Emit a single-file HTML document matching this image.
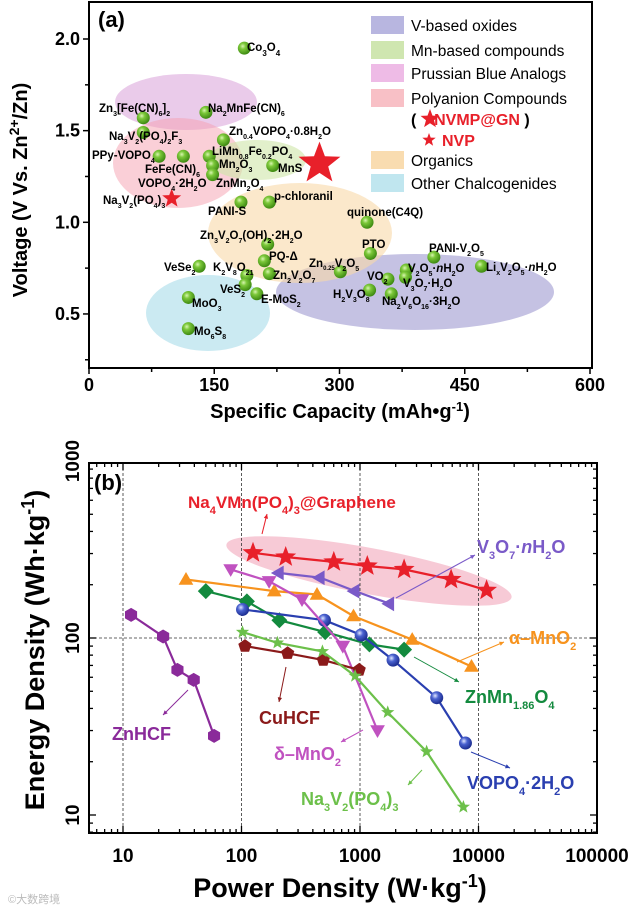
<!DOCTYPE html>
<html><head><meta charset="utf-8">
<style>
html,body{margin:0;padding:0;background:#fff;}
svg{display:block;font-family:"Liberation Sans",Arial,sans-serif;}
.b{font-weight:bold;}
</style></head>
<body>
<svg id="chart" width="633" height="909" viewBox="0 0 633 909" xmlns="http://www.w3.org/2000/svg">
<defs>
<radialGradient id="ball" cx="0.38" cy="0.35" r="0.65">
<stop offset="0" stop-color="#d8f5b0"/><stop offset="0.35" stop-color="#7cc83a"/><stop offset="1" stop-color="#3e8a12"/>
</radialGradient>
<radialGradient id="bball" cx="0.38" cy="0.35" r="0.65">
<stop offset="0" stop-color="#e0e6ff"/><stop offset="0.4" stop-color="#4a62d0"/><stop offset="1" stop-color="#1d2e90"/>
</radialGradient>
</defs>
<g id="panelA"></g>
<g id="panelB"></g>
<text x="8" y="903" font-size="11" fill="#bbb" font-family="'Liberation Sans','Noto Sans CJK SC',sans-serif">©大数跨境</text>
</svg>
<script>
// ---------- Panel A data ----------
const aNames = ["Co3O4","Zn3[Fe(CN)6]2","Na2MnFe(CN)6","Na3V2(PO4)2F3","Zn0.4VOPO4","PPy-VOPO4","FeFe(CN)6","LiMn0.8Fe0.2PO4","Mn2O3","ZnMn2O4","MnS","PANI-S","p-chloranil","quinone","Zn3V2O7(OH)2","PTO","PQ","PANI-V2O5","VeSe2","K2V8O21","Zn2V2O7","Zn0.25V2O5","V2O5nH2O","V3O7H2O","VO2","LixV2O5","VeS2","H2V3O8","Na2V6O16","MoO3","E-MoS2","Mo6S8"];
const aCap = [186,65,140,65,161,84,113,144,148,148,220,182,216,333,214,337,210,413,132,189,216,301,380,379,358,470,187,336,362,119,201,119];
const aVolt = [1.95,1.57,1.60,1.49,1.45,1.36,1.36,1.36,1.31,1.26,1.31,1.11,1.11,1.00,0.88,0.83,0.79,0.81,0.76,0.71,0.72,0.73,0.74,0.70,0.69,0.76,0.66,0.63,0.61,0.59,0.61,0.42];
const starCap = [276, 99];
const starVolt = [1.32, 1.13];
const aXTicks = [0,150,300,450,600];
const aYTicks = [0.5,1.0,1.5,2.0];

// ---------- Panel B data ----------
const nvmpP=[125,236,601,1153,2357,5870,11700], nvmpE=[303,287,269,255,244,214,186];
const v3o7P=[209,463,910,1787], v3o7E=[233,219,184,156];
const amnoP=[34,189,434,881,2760,8730], amnoE=[214,184,176,133,98,69];
const znmnP=[50,111,209,509,1200,2357], znmnE=[184,161,126,108,92,86];
const vopoP=[102,501,1023,1901,4440,7760], vopoE=[145,126,104,75,46,25.5];
const dmnoP=[81,171,324,716,1406], dmnoE=[244,209,165,90,30];
const nvpP=[102,201,482,910,1714,3650,7450], nvpE=[108,94,84,61,38,22.8,11.1];
const cuP=[107,245,490,984], cuE=[90,82,75,66];
const znP=[11.7,21.8,28.8,39.5,58.7], znE=[135,102,66,58,28];
const bXTicks=[10,100,1000,10000,100000];
const bYTicks=[10,100,1000];

const NS="http://www.w3.org/2000/svg";
function mk(tag, attrs, parent){const e=document.createElementNS(NS,tag);for(const k in attrs)e.setAttribute(k,attrs[k]);parent.appendChild(e);return e;}

// ===== Panel A =====
const A=document.getElementById('panelA');
const axL=89, axR=592, axT=2, axB=368;
const xA=v=>axL+v*(501/600);
const yA=v=>39+(2.0-v)*183.3;

const ells=[["v-oxides-region",415,292,139,38,"#8c86c8",0.5],["chalcogenides-region",208,313,62,38,"#a8dcea",0.6],
["organics-region",300,233,92,50,"#f9d9a8",0.6],["pba-region",186,102,71,28,"#d8a0d8",0.55],
["polyanion-region",178,163,65,45,"#f5a0b0",0.5],["mn-region",257,160,49,20,"#cfe6a8",0.6]];
ells.forEach(e=>{const el=mk('ellipse',{cx:e[1],cy:e[2],rx:e[3],ry:e[4],fill:e[5],'fill-opacity':e[6]},A);

});

const fr=mk('rect',{x:axL,y:axT,width:axR-axL,height:axB-axT,fill:'none',stroke:'#000','stroke-width':2},A);


for(let v=0;v<=600;v+=75){const x=xA(v);mk('line',{x1:x,y1:axB,x2:x,y2:axB+(v%150==0?6:4),stroke:'#000','stroke-width':1.5},A);}
for(let v=0.25;v<=2.2;v+=0.25){const y=yA(v);mk('line',{x1:axL,y1:y,x2:axL-(Math.abs(v*2-Math.round(v*2))<0.01?6:4),y2:y,stroke:'#000','stroke-width':1.5},A);}
aXTicks.forEach(v=>{const t=mk('text',{x:xA(v),y:391,'text-anchor':'middle','font-size':18,class:'b'},A);t.textContent=v;

});
aYTicks.forEach(v=>{const t=mk('text',{x:80,y:yA(v)+6,'text-anchor':'end','font-size':18,class:'b'},A);t.textContent=v.toFixed(1);

});

aCap.forEach((c,i)=>{const p=mk('circle',{cx:xA(c),cy:yA(aVolt[i]),r:6.5,fill:'url(#ball)'},A);

});
function star(cx,cy,R,parent,fill){const r=R*0.42;let d='';for(let k=0;k<10;k++){const rr=k%2?r:R;const a=-Math.PI/2+k*Math.PI/5;d+=(k?'L':'M')+(cx+rr*Math.cos(a)).toFixed(1)+','+(cy+rr*Math.sin(a)).toFixed(1);}return mk('path',{d:d+'Z',fill:fill,stroke:'none'},parent);}
[22,10].forEach((R,i)=>{const s=star(xA(starCap[i]),yA(starVolt[i]),R,A,'#e8202a');

});

const S=(t,f)=>'<tspan baseline-shift="sub" font-size="'+(f||7)+'">'+t+'</tspan>';
const labs=[
[247,51,'Co'+S(3,8)+'O'+S(4,8)],
[99,112,'Zn'+S(3)+'[Fe(CN)'+S(6)+']'+S(2)],
[208,112,'Na'+S(2)+'MnFe(CN)'+S(6)],
[109,140,'Na'+S(3)+'V'+S(2)+'(PO'+S(4)+')'+S(2)+'F'+S(3)],
[229,135,'Zn'+S(0.4)+'VOPO'+S(4)+'·0.8H'+S(2)+'O'],
[92,159,'PPy-VOPO'+S(4)],
[212,155,'LiMn'+S(0.8)+'Fe'+S(0.2)+'PO'+S(4)],
[219,168,'Mn'+S(2)+'O'+S(3)],
[145,173,'FeFe(CN)'+S(6)],
[278,172,'MnS'],
[138,187,'VOPO'+S(4)+'·2H'+S(2)+'O'],
[216,187,'ZnMn'+S(2)+'O'+S(4)],
[103,204,'Na'+S(3)+'V'+S(2)+'(PO'+S(4)+')'+S(3)],
[208,215,'PANI-S'],
[274,200,'p-chloranil'],
[347,216,'quinone(C4Q)'],
[200,239,'Zn'+S(3)+'V'+S(2)+'O'+S(7)+'(OH)'+S(2)+'·2H'+S(2)+'O'],
[362,248,'PTO'],
[269,260,'PQ-Δ'],
[429,252,'PANI-V'+S(2)+'O'+S(5)],
[164,271,'VeSe'+S(2)],
[213,271,'K'+S(2)+'V'+S(8)+'O'+S(21)],
[273,279,'Zn'+S(2)+'V'+S(2)+'O'+S(7)],
[309,267,'Zn'+S(0.25,6)+'V'+S(2)+'O'+S(5)],
[408,272,'V'+S(2)+'O'+S(5)+'·<tspan font-style="italic">n</tspan>H'+S(2)+'O'],
[367,280,'VO'+S(2)],
[403,287,'V'+S(3)+'O'+S(7)+'·H'+S(2)+'O'],
[486,271,'Li'+S('x')+'V'+S(2)+'O'+S(5)+'·<tspan font-style="italic">n</tspan>H'+S(2)+'O'],
[220,293,'VeS'+S(2)],
[333,298,'H'+S(2)+'V'+S(3)+'O'+S(8)],
[382,305,'Na'+S(2)+'V'+S(6)+'O'+S(16)+'·3H'+S(2)+'O'],
[261,303,'E-MoS'+S(2)],
[192,307,'MoO'+S(3)],
[194,335,'Mo'+S(6)+'S'+S(8)]];
labs.forEach(l=>{const t=mk('text',{x:l[0],y:l[1],'font-size':11.5,class:'b'},A);t.innerHTML=l[2];

});

const leg=[[25,'#b8b6e0','V-based oxides'],[50,'#cfe6b0','Mn-based compounds'],[73,'#eebbe6','Prussian Blue Analogs'],[98,'#f8c0c6','Polyanion Compounds'],[160,'#f9dcb0','Organics'],[183,'#c0e6ef','Other Chalcogenides']];
leg.forEach(l=>{const g=mk('g',{},A);

mk('rect',{x:371,y:l[0]-9,width:33,height:18,fill:l[1]},g);
const t=mk('text',{x:411,y:l[0]+6,'font-size':15.5},g);t.textContent=l[2];});
const lt1=mk('text',{x:411,y:125,'font-size':16,class:'b'},A);lt1.innerHTML='(<tspan fill="#e8202a"> &#160;&#160;&#160;NVMP@GN</tspan> )';


star(430,119,10,A,'#e8202a');
const lt2=mk('text',{x:442,y:146,'font-size':16,class:'b',fill:'#e8202a'},A);lt2.textContent='NVP';


star(429,140,7,A,'#e8202a');

const ta=mk('text',{x:98,y:27,'font-size':22,class:'b'},A);ta.textContent='(a)';


const xta=mk('text',{x:340,y:418,'text-anchor':'middle','font-size':20,class:'b'},A);xta.innerHTML='Specific Capacity (mAh•g<tspan baseline-shift="super" font-size="13">-1</tspan>)';


const yta=mk('text',{x:0,y:0,'text-anchor':'middle','font-size':20,class:'b',transform:'translate(27,190) rotate(-90)'},A);yta.innerHTML='Voltage (V Vs. Zn<tspan baseline-shift="super" font-size="14">2+</tspan>/Zn)';



// ===== Panel B =====
const B=document.getElementById('panelB');
const bL=89,bR=597,bT=463,bB=833;
const xB=v=>123+(Math.log10(v)-1)*118.5;
const yB=v=>638-(Math.log10(v)-2)*177;

const pe=mk('ellipse',{cx:369,cy:571,rx:145,ry:23,fill:'#f4b4c4','fill-opacity':0.7,transform:'rotate(10.5 369 571)'},B);



const fb=mk('rect',{x:bL,y:bT,width:bR-bL,height:bB-bT,fill:'none',stroke:'#000','stroke-width':2},B);


bXTicks.slice(0,4).forEach(v=>{mk('line',{x1:xB(v),y1:bT,x2:xB(v),y2:bB,stroke:'#333','stroke-width':0.8,'stroke-dasharray':'3,2'},B);});
mk('line',{x1:bL,y1:yB(100),x2:bR,y2:yB(100),stroke:'#333','stroke-width':0.8,'stroke-dasharray':'3,2'},B);
for(let d=0;d<=5;d++)for(let m=1;m<10;m++){const v=m*Math.pow(10,d);const x=xB(v);if(x<bL||x>bR)continue;const L=m==1?7:4;
mk('line',{x1:x,y1:bB,x2:x,y2:bB-L,stroke:'#000','stroke-width':1.3},B);mk('line',{x1:x,y1:bT,x2:x,y2:bT+L,stroke:'#000','stroke-width':1.3},B);}
for(let d=0;d<=3;d++)for(let m=1;m<10;m++){const v=m*Math.pow(10,d);const y=yB(v);if(y<bT-1||y>bB)continue;const L=m==1?7:4;
mk('line',{x1:bL,y1:y,x2:bL+L,y2:y,stroke:'#000','stroke-width':1.3},B);mk('line',{x1:bR,y1:y,x2:bR-L,y2:y,stroke:'#000','stroke-width':1.3},B);}
bXTicks.forEach(v=>{const t=mk('text',{x:xB(v),y:862,'text-anchor':'middle','font-size':19,class:'b'},B);t.textContent=v;

});
bYTicks.forEach(v=>{const t=mk('text',{x:0,y:0,'text-anchor':'middle','font-size':19,class:'b',transform:`translate(79,${yB(v)}) rotate(-90)`},B);t.textContent=v;

});

function poly(n,cx,cy,R,rot){let d='';for(let k=0;k<n;k++){const a=rot+k*2*Math.PI/n;d+=(k?'L':'M')+(cx+R*Math.cos(a)).toFixed(1)+','+(cy+R*Math.sin(a)).toFixed(1);}return d+'Z';}
function series(name,P,E,color,marker,lw){
 const g=mk('g',{},B);
 
 
 const pts=P.map((p,i)=>xB(p).toFixed(1)+','+yB(E[i]).toFixed(1)).join(' ');
 mk('polyline',{points:pts,fill:'none',stroke:color,'stroke-width':lw||2.2},g);
 P.forEach((p,i)=>{const x=xB(p),y=yB(E[i]);let m;
  if(marker=='star')m=star(x,y,11,g,color);
  else if(marker=='sstar')m=star(x,y,7,g,color);
  else if(marker=='up')m=mk('path',{d:poly(3,x,y+1,8.5,-Math.PI/2),fill:color},g);
  else if(marker=='down')m=mk('path',{d:poly(3,x,y-1,8.5,Math.PI/2),fill:color},g);
  else if(marker=='left')m=mk('path',{d:poly(3,x,y,8.5,Math.PI),fill:color},g);
  else if(marker=='diamond')m=mk('path',{d:poly(4,x,y,8,0),fill:color},g);
  else if(marker=='pent')m=mk('path',{d:poly(5,x,y,7,-Math.PI/2),fill:color},g);
  else if(marker=='hex')m=mk('path',{d:poly(6,x,y,7,Math.PI/6),fill:color},g);
  else m=mk('circle',{cx:x,cy:y,r:6.5,fill:'url(#bball)'},g);
  
  
 });
}
series('alpha-mno2',amnoP,amnoE,'#f7931e','up');
series('znmn186o4',znmnP,znmnE,'#138a3e','diamond');
series('vopo4',vopoP,vopoE,'#2a3fb0','circle');
series('delta-mno2',dmnoP,dmnoE,'#c052c0','down');
series('cuhcf',cuP,cuE,'#8b1a1a','pent');
series('nvp',nvpP,nvpE,'#6cc04a','sstar');
series('znhcf',znP,znE,'#8a2a9a','hex');
series('v3o7',v3o7P,v3o7E,'#7a5ac8','left');
series('nvmp-graphene',nvmpP,nvmpE,'#e8202a','star');

const arr=[[262,534,267,514,'#e8202a'],[396,598,475,555,'#7a5ac8'],[457,662,504,642,'#f7931e'],[414,657,459,682,'#138a3e'],[471,752,510,768,'#2a3fb0'],[422,770,408,785,'#6cc04a'],[363,730,341,742,'#c052c0'],[286,667,279,702,'#8b1a1a'],[188,690,163,715,'#8a2a9a']];
arr.forEach(a=>{const g=mk('g',{},B);

mk('line',{x1:a[0],y1:a[1],x2:a[2],y2:a[3],stroke:a[4],'stroke-width':1},g);
const ang=Math.atan2(a[3]-a[1],a[2]-a[0]);const h=5;
mk('path',{d:`M${a[2]},${a[3]}L${a[2]-h*Math.cos(ang-0.45)},${a[3]-h*Math.sin(ang-0.45)}L${a[2]-h*Math.cos(ang+0.45)},${a[3]-h*Math.sin(ang+0.45)}Z`,fill:a[4]},g);});

const T=(t)=>'<tspan baseline-shift="sub" font-size="11">'+t+'</tspan>';
const bl=[[188,508,'#e8202a',17,'Na'+T(4)+'VMn(PO'+T(4)+')'+T(3)+'@Graphene'],
[477,553,'#7a5ac8',18,'V'+T(3)+'O'+T(7)+'·<tspan font-style="italic">n</tspan>H'+T(2)+'O'],
[509,644,'#f7931e',18,'α–MnO'+T(2)],
[465,703,'#138a3e',18,'ZnMn'+T(1.86)+'O'+T(4)],
[467,789,'#2a3fb0',18,'VOPO'+T(4)+'·2H'+T(2)+'O'],
[301,805,'#6cc04a',18,'Na'+T(3)+'V'+T(2)+'(PO'+T(4)+')'+T(3)],
[274,760,'#c052c0',18,'δ–MnO'+T(2)],
[259,724,'#8b1a1a',18,'CuHCF'],
[112,740,'#8a2a9a',18,'ZnHCF']];
bl.forEach(l=>{const t=mk('text',{x:l[0],y:l[1],'font-size':l[3],class:'b',fill:l[2]},B);t.innerHTML=l[4];

});

const tb=mk('text',{x:94,y:490,'font-size':22,class:'b'},B);tb.textContent='(b)';


const xtb=mk('text',{x:340,y:897,'text-anchor':'middle','font-size':27,class:'b'},B);xtb.innerHTML='Power Density (W·kg<tspan baseline-shift="super" font-size="18">-1</tspan>)';


const ytb=mk('text',{x:0,y:0,'text-anchor':'middle','font-size':27,class:'b',transform:'translate(44,650) rotate(-90)'},B);ytb.innerHTML='Energy Density (Wh·kg<tspan baseline-shift="super" font-size="18">-1</tspan>)';


</script>
</body></html>
